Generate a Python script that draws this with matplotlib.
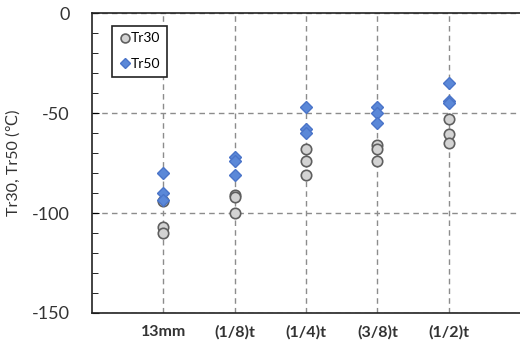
import matplotlib
matplotlib.use("Agg")
import matplotlib.pyplot as plt
from matplotlib.ticker import MultipleLocator

plt.rcParams['font.family'] = ['Lato', 'DejaVu Sans']
plt.rcParams['axes.unicode_minus'] = False

# positions through the plate thickness
categories = ['13mm', '(1/8)t', '(1/4)t', '(3/8)t', '(1/2)t']

# three specimens per position (deg C)
tr30 = [
    [-94, -107, -110],
    [-91, -92, -100],
    [-68, -74, -81],
    [-66, -68, -74],
    [-53, -60.5, -65],
]
tr50 = [
    [-80, -90, -93.5],
    [-72, -74, -81],
    [-47, -58, -60],
    [-47, -50, -55],
    [-35, -44, -45],
]

fig = plt.figure(figsize=(5.2, 3.47), dpi=100)
ax = fig.add_axes([0.177, 0.098, 0.823, 0.8645])

for i, vals in enumerate(tr30):
    ax.plot([i + 1] * len(vals), vals, 'o', ms=7.5, mfc='#d3d3d3', mec='#5f5f5f',
            mew=1.2, ls='none', label='Tr30' if i == 0 else None, zorder=3)
for i, vals in enumerate(tr50):
    ax.plot([i + 1] * len(vals), vals, 'D', ms=6, mfc='#5b88d8', mec='#4a74c8',
            mew=1.0, ls='none', label='Tr50' if i == 0 else None, zorder=4)

ax.set_xlim(0, 6)
ax.set_ylim(-150, 0)
ax.set_xticks(range(1, len(categories) + 1))
ax.set_xticklabels(categories, fontsize=11.5, fontweight='bold', color='#333333')
ax.tick_params(axis='x', length=0, pad=9)

ax.yaxis.set_major_locator(MultipleLocator(50))
ax.yaxis.set_minor_locator(MultipleLocator(10))
ax.tick_params(axis='y', which='major', direction='in', length=5, pad=16,
               labelsize=13, labelcolor='#333333')
ax.tick_params(axis='y', which='minor', direction='in', length=4)

ax.grid(True, which='major', color='#8c8c8c', ls=(0, (4, 3)), lw=1.0)
ax.set_axisbelow(True)

for side in ['left', 'bottom', 'top']:
    ax.spines[side].set_color('#222222')
    ax.spines[side].set_linewidth(1.2)
ax.spines['right'].set_visible(False)

ax.set_ylabel('Tr30, Tr50 (℃)', fontsize=11.5, color='#333333', labelpad=8)

leg = ax.legend(loc='upper left', bbox_to_anchor=(0.037, 0.97), fontsize=10,
                handletextpad=0.0, handlelength=0.9, borderpad=0.45,
                labelspacing=1.0, borderaxespad=0.3, markerscale=0.85,
                fancybox=False, framealpha=1)
leg.get_frame().set_edgecolor('#222222')
leg.get_frame().set_linewidth(1.2)

fig.savefig('out.png', dpi=100)
